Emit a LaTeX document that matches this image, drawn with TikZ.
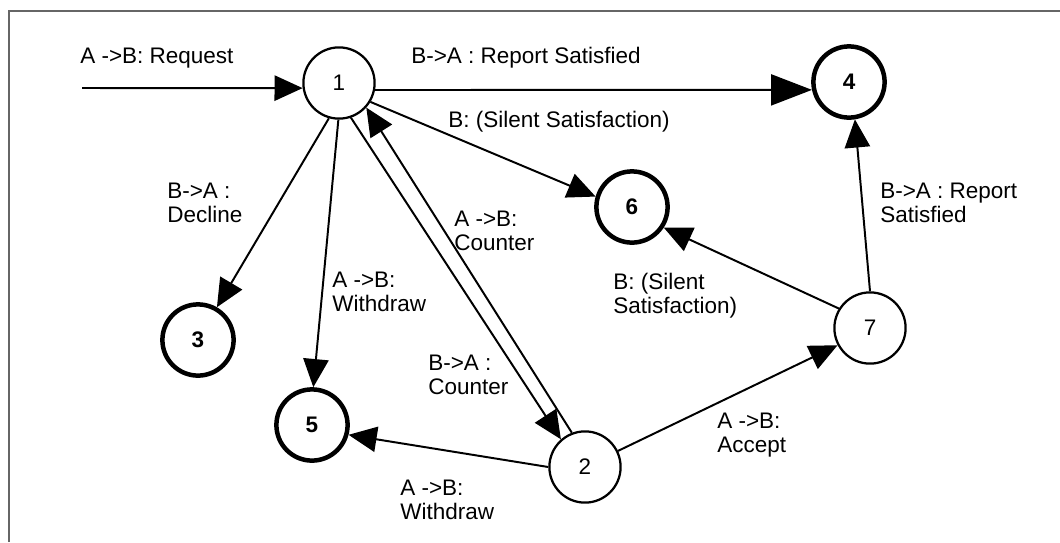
\documentclass[tikz,border=0pt]{standalone}
\usepackage{fontspec}
\setmainfont{Liberation Sans}
\usetikzlibrary{arrows.meta}

\begin{document}
\begin{tikzpicture}[x=0.025cm, y=-0.025cm,
        state/.style = {circle, draw, line width=1.6pt, minimum size=1.78cm, inner sep=0pt, font=\fontsize{16}{17}\selectfont},
        final/.style = {state, line width=3.2pt, font=\fontsize{16}{17}\selectfont\bfseries},
        msg/.style = {inner sep=0pt, align=left, font=\fontsize{16}{17}\selectfont},
        trans/.style = {line width=1.4pt, -{Triangle[length=20pt, width=18pt]}},
        bigtrans/.style = {line width=1.4pt, -{Triangle[length=29pt, width=22pt]}}]
            \useasboundingbox (0, 0) rectangle (1060, 542);
            \draw [black!60, line width=1.4pt] (9, 542) -- (9, 11) -- (1060, 11);

            % states
            \node (1) at (339, 83) [state] {1};
            \node (2) at (585, 467) [state] {2};
            \node (3) at (198, 340) [final] {3};
            \node (4) at (849, 82) [final] {4};
            \node (5) at (312, 425) [final] {5};
            \node (6) at (632, 207) [final] {6};
            \node (7) at (870, 328) [state] {7};
            \coordinate (start) at (82, 88);

            % transitions
            \draw [trans] (start) -- (1.188);
            \draw [bigtrans] (1.-11) -- (4.192);
            \draw [trans] (1.-31) -- (6.164);
            \draw [trans] (1.-106) -- (3.60);
            \draw [trans] (1.-91) -- (5.88);
            \draw [trans] (1.-71) -- (2.131);
            \draw [trans] (2.111) -- (1.-42);
            \draw [trans] (2.180) -- (5.-15);
            \draw [trans] (2.26) -- (7.208);
            \draw [trans] (7.148) -- (6.-33);
            \draw [trans] (7.90) -- (4.-81);

            % messages
            \node (req) at (80, 63) [msg, anchor=base west] {A ->B: Request};
            \node (rep) at (411, 63) [msg, anchor=base west] {B->A : Report Satisfied};
            \node (sil) at (448, 127) [msg, anchor=base west] {B: (Silent Satisfaction)};
            \node (dec) at (167, 183) [msg, anchor=north west] {B->A :\\Decline};
            \node (ctr1) at (454, 211) [msg, anchor=north west] {A ->B:\\Counter};
            \node (wd1) at (332, 272) [msg, anchor=north west] {A ->B:\\Withdraw};
            \node (ctr2) at (428, 355) [msg, anchor=north west] {B->A :\\Counter};
            \node (wd2) at (400, 480) [msg, anchor=north west] {A ->B:\\Withdraw};
            \node (sil2) at (613, 273) [msg, anchor=north west] {B: (Silent\\Satisfaction)};
            \node (acc) at (717, 413) [msg, anchor=north west] {A ->B:\\Accept};
            \node (rep2) at (880, 183) [msg, anchor=north west] {B->A : Report\\Satisfied};
        \end{tikzpicture}
\end{document}
